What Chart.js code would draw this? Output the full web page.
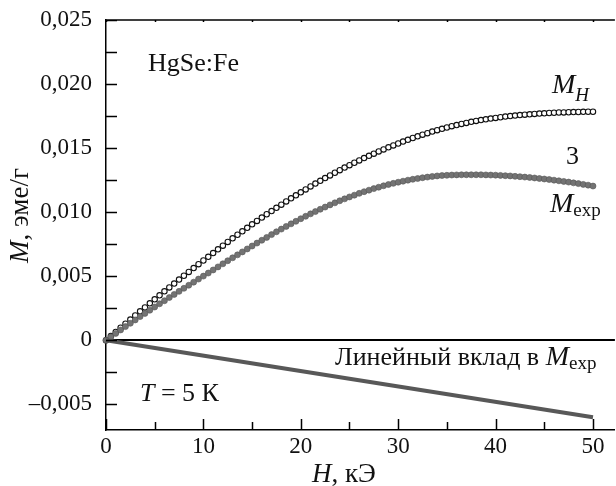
<!DOCTYPE html>
<html>
<head>
<meta charset="utf-8">
<script src="https://cdn.jsdelivr.net/npm/chart.js@4.4.1/dist/chart.umd.min.js"></script>
<style>
  html, body { margin: 0; padding: 0; background: #fff; overflow: hidden; }
  #wrap { width: 616px; height: 486px; overflow: hidden; }
</style>
</head>
<body>
<div id="wrap"><canvas id="chart" width="620" height="486"></canvas></div>
<script>
// === Données (H en kOe, M en emu/g) ===
const fieldH = [
  0, 0.5, 1, 1.5, 2, 2.5, 3, 3.5, 4, 4.5, 5, 5.5, 6, 6.5, 7, 7.5, 8, 8.5, 9, 9.5,
  10, 10.5, 11, 11.5, 12, 12.5, 13, 13.5, 14, 14.5, 15, 15.5, 16, 16.5, 17, 17.5, 18, 18.5, 19, 19.5,
  20, 20.5, 21, 21.5, 22, 22.5, 23, 23.5, 24, 24.5, 25, 25.5, 26, 26.5, 27, 27.5, 28, 28.5, 29, 29.5,
  30, 30.5, 31, 31.5, 32, 32.5, 33, 33.5, 34, 34.5, 35, 35.5, 36, 36.5, 37, 37.5, 38, 38.5, 39, 39.5,
  40, 40.5, 41, 41.5, 42, 42.5, 43, 43.5, 44, 44.5, 45, 45.5, 46, 46.5, 47, 47.5, 48, 48.5, 49, 49.5, 50
];
const magH = [
  0, 0.00033, 0.00065, 0.00098, 0.00130, 0.00162, 0.00194, 0.00226, 0.00257, 0.00289,
  0.00320, 0.00351, 0.00382, 0.00413, 0.00443, 0.00474, 0.00504, 0.00534, 0.00564, 0.00594,
  0.00623, 0.00652, 0.00681, 0.00710, 0.00739, 0.00768, 0.00796, 0.00824, 0.00851, 0.00878,
  0.00905, 0.00932, 0.00958, 0.00984, 0.01009, 0.01034, 0.01059, 0.01084, 0.01108, 0.01132,
  0.01155, 0.01178, 0.01201, 0.01223, 0.01245, 0.01266, 0.01287, 0.01308, 0.01328, 0.01348,
  0.01367, 0.01386, 0.01404, 0.01422, 0.01440, 0.01457, 0.01474, 0.01490, 0.01506, 0.01521,
  0.01536, 0.01551, 0.01565, 0.01579, 0.01592, 0.01605, 0.01617, 0.01629, 0.01640, 0.01651,
  0.01661, 0.01671, 0.01680, 0.01689, 0.01697, 0.01705, 0.01712, 0.01719, 0.01725, 0.01731,
  0.01736, 0.01741, 0.01746, 0.01750, 0.01754, 0.01758, 0.01761, 0.01764, 0.01767, 0.01770,
  0.01772, 0.01774, 0.01776, 0.01778, 0.01779, 0.01780, 0.01781, 0.01782, 0.01783, 0.01784,
  0.01784
];
const magExp = [
  0, 0.00027, 0.00054, 0.00081, 0.00107, 0.00133, 0.00159, 0.00185, 0.00210, 0.00235,
  0.00260, 0.00285, 0.00309, 0.00334, 0.00358, 0.00382, 0.00406, 0.00430, 0.00454, 0.00478,
  0.00501, 0.00525, 0.00549, 0.00573, 0.00597, 0.00621, 0.00644, 0.00667, 0.00690, 0.00713,
  0.00736, 0.00759, 0.00781, 0.00803, 0.00825, 0.00847, 0.00868, 0.00889, 0.00909, 0.00929,
  0.00949, 0.00968, 0.00987, 0.01005, 0.01023, 0.01040, 0.01057, 0.01073, 0.01089, 0.01104,
  0.01119, 0.01133, 0.01147, 0.01160, 0.01172, 0.01184, 0.01195, 0.01206, 0.01216, 0.01225,
  0.01234, 0.01242, 0.01250, 0.01257, 0.01263, 0.01269, 0.01274, 0.01279, 0.01283, 0.01286,
  0.01288, 0.01290, 0.01291, 0.01292, 0.01292, 0.01292, 0.01292, 0.01292, 0.01291, 0.01290,
  0.01289, 0.01287, 0.01285, 0.01283, 0.01280, 0.01277, 0.01274, 0.01271, 0.01267, 0.01263,
  0.01259, 0.01255, 0.01250, 0.01245, 0.01240, 0.01235, 0.01229, 0.01223, 0.01217, 0.01211,
  0.01204
];
// courbe 3 (ajustement) tracée en blanc sur la fin de M_exp
const fitH = [42, 44, 46, 48, 50];
const fitM = [0.01281, 0.01268, 0.01251, 0.01230, 0.01205];
// contribution linéaire
const linearH = [0, 50];
const linearM = [0, -0.006];

// === Graduations ===
const xTicks = [0, 10, 20, 30, 40, 50];
const xTickLabels = ['0', '10', '20', '30', '40', '50'];
const xMinor = [5, 15, 25, 35, 45];
const yTicks = [-0.005, 0, 0.005, 0.010, 0.015, 0.020, 0.025];
const yTickLabels = ['\u20130,005', '0', '0,005', '0,010', '0,015', '0,020', '0,025'];
const yMinor = [-0.0025, 0.0025, 0.0075, 0.0125, 0.0175, 0.0225];

const SERIF = "'Liberation Serif', 'Times New Roman', serif";

function toPoints(xs, ys) {
  return xs.map((v, i) => ({ x: v, y: ys[i] }));
}

// texte avec morceaux italiques / indices
function drawRich(ctx, parts, x, y) {
  let cx = x;
  parts.forEach(p => {
    ctx.font = (p.it ? 'italic ' : '') + p.size + 'px ' + SERIF;
    ctx.fillText(p.t, cx, y + (p.dy || 0));
    cx += ctx.measureText(p.t).width;
  });
}

// === Graduations intérieures, cadre du haut et annotations ===
const decorPlugin = {
  id: 'decor',
  afterDatasetsDraw(chart) {
    const { ctx, chartArea: a, scales: { x, y } } = chart;
    ctx.save();
    ctx.strokeStyle = '#000';
    ctx.lineWidth = 1.5;
    ctx.beginPath();
    ctx.moveTo(a.left, a.top);
    ctx.lineTo(a.right, a.top);
    yTicks.concat(yMinor).forEach(v => {
      const py = Math.round(y.getPixelForValue(v)) + 0.5;
      ctx.moveTo(a.left, py);
      ctx.lineTo(a.left + 11, py);
    });
    xTicks.forEach(v => {
      const px = Math.round(x.getPixelForValue(v)) + 0.5;
      ctx.moveTo(px, a.bottom);
      ctx.lineTo(px, a.bottom - 11);
      ctx.moveTo(px, a.top);
      ctx.lineTo(px, a.top + 2);
    });
    xMinor.forEach(v => {
      const px = Math.round(x.getPixelForValue(v)) + 0.5;
      ctx.moveTo(px, a.bottom);
      ctx.lineTo(px, a.bottom - 8);
      ctx.moveTo(px, a.top);
      ctx.lineTo(px, a.top + 2);
    });
    ctx.stroke();

    ctx.fillStyle = '#111';
    ctx.textBaseline = 'alphabetic';
    ctx.textAlign = 'left';
    drawRich(ctx, [{ t: 'HgSe:Fe', size: 26 }], 148, 71);
    drawRich(ctx, [{ t: 'T', it: true, size: 26 }, { t: ' = 5 К', size: 26 }], 140, 401);
    drawRich(ctx, [{ t: 'M', it: true, size: 28 }, { t: 'H', it: true, size: 19, dy: 8 }], 552, 93);
    drawRich(ctx, [{ t: '3', size: 26 }], 566, 164);
    drawRich(ctx, [{ t: 'M', it: true, size: 28 }, { t: 'exp', size: 19, dy: 4 }], 550, 212);
    drawRich(ctx, [{ t: 'Линейный вклад в ', size: 26 }, { t: 'M', it: true, size: 28 },
      { t: 'exp', size: 19, dy: 4 }], 335, 365);

    // titres des axes
    drawRich(ctx, [{ t: 'H', it: true, size: 27 }, { t: ', кЭ', size: 27 }], 312, 482);
    ctx.save();
    ctx.translate(28, 263);
    ctx.rotate(-Math.PI / 2);
    drawRich(ctx, [{ t: 'M', it: true, size: 27 }, { t: ', эме/г', size: 27 }], 0, 0);
    ctx.restore();
    ctx.restore();
  }
};

new Chart(document.getElementById('chart'), {
  type: 'scatter',
  data: {
    datasets: [
      {
        label: 'linear',
        data: toPoints(linearH, linearM),
        showLine: true,
        borderColor: '#585858',
        borderWidth: 4,
        pointRadius: 0,
        clip: false
      },
      {
        label: 'M_exp',
        data: toPoints(fieldH, magExp),
        showLine: false,
        pointRadius: 3,
        pointBackgroundColor: '#737373',
        pointBorderColor: '#555',
        pointBorderWidth: 0.6,
        clip: false
      },
      {
        label: 'fit 3',
        data: toPoints(fitH, fitM),
        showLine: true,
        borderColor: '#fff',
        borderWidth: 1.2,
        pointRadius: 0,
        clip: false
      },
      {
        label: 'M_H',
        data: toPoints(fieldH, magH),
        showLine: false,
        pointRadius: 2.7,
        pointBackgroundColor: '#fff',
        pointBorderColor: '#111',
        pointBorderWidth: 1.1,
        clip: false
      },
      {
        label: 'M_H centre',
        data: toPoints(fieldH, magH),
        showLine: false,
        pointRadius: 0.7,
        pointBackgroundColor: '#333',
        pointBorderWidth: 0,
        clip: false
      }
    ]
  },
  options: {
    responsive: false,
    animation: false,
    layout: { padding: { top: 20, right: 0, left: 0, bottom: 0 } },
    plugins: { legend: { display: false }, tooltip: { enabled: false } },
    scales: {
      x: {
        type: 'linear',
        min: 0,
        max: 52.25,
        afterBuildTicks: (scale) => { scale.ticks = xTicks.map(v => ({ value: v })); },
        afterFit: (scale) => { scale.height = 56; scale.paddingLeft = 0; scale.paddingRight = 0; },
        ticks: {
          callback: (v, i) => xTickLabels[i],
          font: { family: SERIF, size: 23 },
          color: '#111',
          padding: 3,
          maxRotation: 0
        },
        grid: { color: 'transparent', drawTicks: false },
        border: { display: true, color: '#000', width: 1.5 }
      },
      y: {
        type: 'linear',
        min: -0.007,
        max: 0.025,
        afterBuildTicks: (scale) => { scale.ticks = yTicks.map(v => ({ value: v })); },
        afterFit: (scale) => { scale.width = 106; scale.paddingTop = 0; scale.paddingBottom = 0; },
        ticks: {
          callback: (v, i) => yTickLabels[i],
          font: { family: SERIF, size: 23 },
          color: '#111',
          padding: 14
        },
        grid: {
          color: (c) => (c.tick && c.tick.value === 0 ? '#000' : 'transparent'),
          lineWidth: 2,
          drawTicks: false
        },
        border: { display: true, color: '#000', width: 1.5 }
      }
    }
  },
  plugins: [decorPlugin]
});
</script>
</body>
</html>
